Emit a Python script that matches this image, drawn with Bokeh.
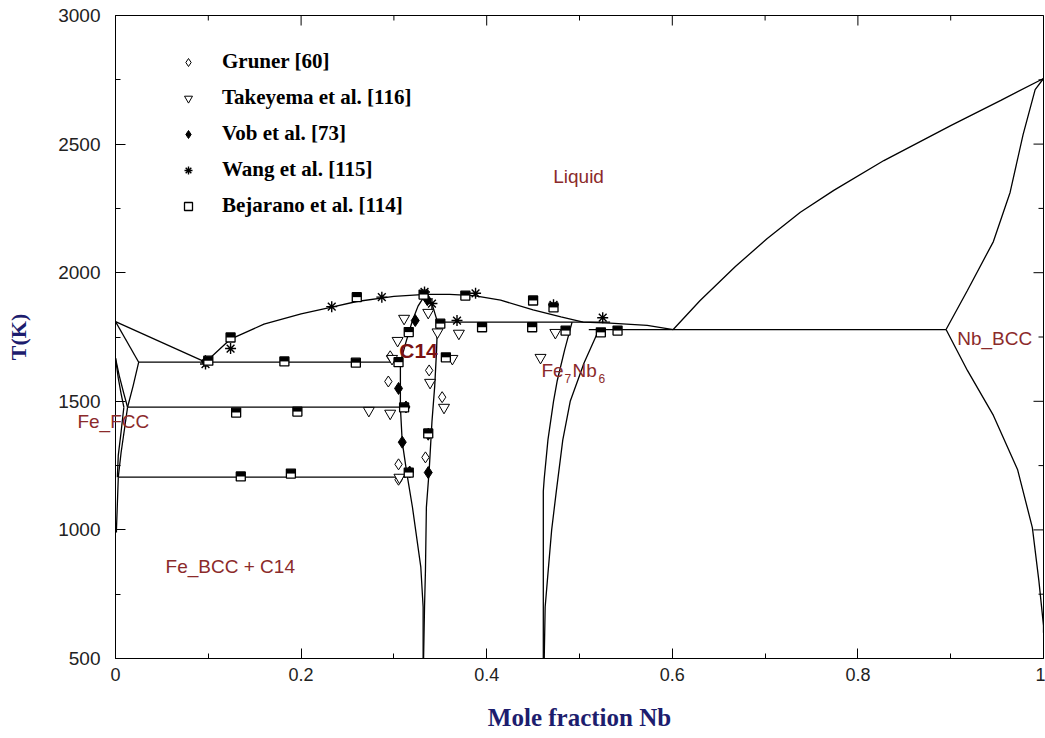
import math
from bokeh.plotting import figure
from bokeh.models import (FixedTicker, Label, Legend, LegendItem, Range1d)
from bokeh.core.properties import value
from bokeh.embed import file_html
from bokeh.resources import INLINE

# ---------------- data (x = mole fraction Nb, T in K) ----------------
# phase boundaries
liq_fe_x = [0.0, 0.097]
liq_fe_t = [1810, 1652]
liq_c14_x = [0.097, 0.124, 0.16, 0.2, 0.233, 0.26, 0.3, 0.334, 0.36, 0.386, 0.415, 0.45, 0.48, 0.504, 0.533, 0.573, 0.601]
liq_c14_t = [1652, 1742, 1800, 1840, 1866, 1888, 1908, 1916, 1916, 1911, 1893, 1855, 1828, 1808, 1804, 1795, 1779]
liq_nb_x = [0.601, 0.630, 0.668, 0.702, 0.738, 0.774, 0.828, 0.9, 0.954, 1.0]
liq_nb_t = [1779, 1892, 2024, 2132, 2235, 2320, 2436, 2572, 2670, 2755]
sol_nb_x = [0.895, 0.918, 0.946, 0.964, 0.978, 0.991, 1.0]
sol_nb_t = [1779, 1931, 2121, 2312, 2537, 2712, 2755]
solv_nb_x = [0.895, 0.918, 0.946, 0.972, 0.988, 0.995, 1.0, 1.0]
solv_nb_t = [1779, 1620, 1445, 1235, 1009, 803, 628, 600]
c14_left_x = [0.334, 0.326, 0.320, 0.313, 0.307, 0.307, 0.309, 0.314, 0.320, 0.329, 0.3315, 0.3315]
c14_left_t = [1916, 1870, 1814, 1730, 1652, 1477, 1341, 1219, 1088, 855, 700, 500]
c14_right_x = [0.334, 0.341, 0.347, 0.346, 0.344, 0.341, 0.338, 0.335, 0.334, 0.333, 0.332]
c14_right_t = [1916, 1880, 1808, 1700, 1560, 1420, 1231, 1088, 842, 700, 500]
mu_left_x = [0.492, 0.484, 0.476, 0.472, 0.466, 0.462, 0.461, 0.461]
mu_left_t = [1808, 1700, 1580, 1500, 1350, 1200, 1150, 500]
mu_right_x = [0.521, 0.505, 0.490, 0.482, 0.475, 0.470, 0.466, 0.463, 0.462]
mu_right_t = [1779, 1650, 1500, 1350, 1150, 1000, 830, 700, 500]
delta_sol_x = [0.0, 0.025]
delta_sol_t = [1810, 1652]
delta_gam_x = [0.025, 0.019, 0.013]
delta_gam_t = [1652, 1560, 1477]
gam_a_x = [0.0, 0.004, 0.009, 0.013]
gam_a_t = [1668, 1600, 1530, 1477]
gam_b_x = [0.0, 0.003, 0.006, 0.009]
gam_b_t = [1668, 1590, 1530, 1477]
gam_c_x = [0.013, 0.010, 0.006, 0.003]
gam_c_t = [1477, 1400, 1300, 1205]
gam_d_x = [0.009, 0.006, 0.003, 0.002]
gam_d_t = [1477, 1380, 1290, 1205]
bcc_solv_x = [0.003, 0.002, 0.001, 0.001]
bcc_solv_t = [1205, 1100, 1000, 990]
# invariant (horizontal) lines
inv_1652_x = [0.025, 0.307]
inv_1652_t = [1652, 1652]
inv_1477_x = [0.013, 0.307]
inv_1477_t = [1477, 1477]
inv_1205_x = [0.003, 0.313]
inv_1205_t = [1205, 1205]
inv_1808_x = [0.347, 0.533]
inv_1808_t = [1808, 1808]
inv_1779_x = [0.51, 0.895]
inv_1779_t = [1779, 1779]

# experimental points
gruner_x = [0.296, 0.294, 0.338, 0.352, 0.305, 0.334, 0.305]
gruner_t = [1675, 1577, 1620, 1516, 1255, 1282, 1195]
takeyema_x = [0.311, 0.304, 0.337, 0.347, 0.363, 0.298, 0.339, 0.354, 0.273, 0.296, 0.306, 0.370, 0.474, 0.458]
takeyema_t = [1822, 1736, 1845, 1769, 1666, 1666, 1573, 1476, 1464, 1453, 1204, 1764, 1767, 1670]
vob_x = [0.097, 0.323, 0.305, 0.309, 0.337, 0.336, 0.313, 0.337, 0.317]
vob_t = [1655, 1814, 1550, 1341, 1223, 1895, 1478, 1372, 1225]
wang_x = [0.097, 0.124, 0.233, 0.287, 0.333, 0.341, 0.368, 0.388, 0.472, 0.525]
wang_t = [1645, 1705, 1868, 1905, 1925, 1880, 1814, 1920, 1875, 1825]
bejarano_x = [0.100, 0.124, 0.182, 0.259, 0.305, 0.130, 0.196, 0.135, 0.189, 0.260, 0.332, 0.377,
              0.450, 0.472, 0.350, 0.395, 0.449, 0.485, 0.316, 0.356, 0.311, 0.337, 0.316, 0.523, 0.541]
bejarano_t = [1658, 1748, 1655, 1650, 1652, 1456, 1460, 1208, 1219, 1905, 1915, 1911,
              1892, 1865, 1802, 1788, 1788, 1775, 1769, 1671, 1476, 1375, 1223, 1768, 1775]

series_labels = ["Gruner [60]", "Takeyema et al. [116]", "Vob et al. [73]",
                 "Wang et al. [115]", "Bejarano et al. [114]"]

x_tick_vals = [0, 0.2, 0.4, 0.6, 0.8, 1.0]
x_tick_labels = ["0", "0.2", "0.4", "0.6", "0.8", "1"]
x_minor = [0.1, 0.3, 0.5, 0.7, 0.9]
y_tick_vals = [500, 1000, 1500, 2000, 2500, 3000]
y_minor = [750, 1250, 1750, 2250, 2750]

# ---------------- figure ----------------
W, H = 1045, 738
ML, MR, MT, MB = 115, 2, 15, 80
X_MIN, X_MAX = 0, 1
T_MIN, T_MAX = 500, 3000

p = figure(width=W, height=H, x_range=Range1d(X_MIN, X_MAX), y_range=Range1d(T_MIN, T_MAX),
           output_backend="svg", toolbar_location=None,
           min_border_left=ML, min_border_right=MR, min_border_top=MT, min_border_bottom=MB)
p.grid.visible = False
p.outline_line_color = "black"
p.outline_line_width = 1
p.background_fill_color = "white"
p.border_fill_color = "white"

navy = "#1d1d6e"
tick_col = "#222222"
lab_red = "#8b2a2a"

xt = FixedTicker(ticks=x_tick_vals, minor_ticks=x_minor)
yt = FixedTicker(ticks=y_tick_vals, minor_ticks=y_minor)

for ax in p.xaxis:
    ax.ticker = xt
    ax.major_label_overrides = dict(zip(x_tick_vals, x_tick_labels))
    ax.axis_label = "Mole fraction Nb"
    ax.major_label_standoff = 9
    ax.axis_label_standoff = 20
    ax.major_label_text_font = "Liberation Sans"
    ax.major_label_text_font_size = "18px"
    ax.major_label_text_color = tick_col
for ax in p.yaxis:
    ax.ticker = yt
    ax.axis_label = "T(K)"
    ax.major_label_standoff = 15
    ax.axis_label_standoff = 24
    ax.major_label_text_font = "Liberation Sans"
    ax.major_label_text_font_size = "19px"
    ax.major_label_text_color = tick_col
for ax in list(p.xaxis) + list(p.yaxis):
    ax.axis_label_text_font = "Liberation Serif"
    ax.axis_label_text_font_style = "bold"
    ax.axis_label_text_color = navy
    ax.axis_line_color = "black"
    ax.major_tick_in = 10
    ax.major_tick_out = 0
    ax.minor_tick_in = 5
    ax.minor_tick_out = 0
    ax.major_tick_line_color = "black"
    ax.minor_tick_line_color = "black"
p.xaxis.axis_label_text_font_size = "25px"
p.yaxis.axis_label_text_font_size = "22px"

# inward ticks on the top and right frame edges (dash markers clipped by the frame)
p.scatter(x_tick_vals, [T_MAX] * len(x_tick_vals), marker="dash", angle=math.pi / 2,
          size=20, line_color="black", line_width=1)
p.scatter(x_minor, [T_MAX] * len(x_minor), marker="dash", angle=math.pi / 2,
          size=10, line_color="black", line_width=1)
p.scatter([X_MAX] * len(y_tick_vals), y_tick_vals, marker="dash",
          size=20, line_color="black", line_width=1)
p.scatter([X_MAX] * len(y_minor), y_minor, marker="dash",
          size=10, line_color="black", line_width=1)

# ---------------- phase boundaries ----------------
curves = [
    (liq_fe_x, liq_fe_t), (liq_c14_x, liq_c14_t), (liq_nb_x, liq_nb_t),
    (sol_nb_x, sol_nb_t), (solv_nb_x, solv_nb_t),
    (c14_left_x, c14_left_t), (c14_right_x, c14_right_t),
    (mu_left_x, mu_left_t), (mu_right_x, mu_right_t),
    (delta_sol_x, delta_sol_t), (delta_gam_x, delta_gam_t),
    (gam_a_x, gam_a_t), (gam_b_x, gam_b_t), (gam_c_x, gam_c_t), (gam_d_x, gam_d_t),
    (bcc_solv_x, bcc_solv_t),
    (inv_1652_x, inv_1652_t), (inv_1477_x, inv_1477_t), (inv_1205_x, inv_1205_t),
    (inv_1808_x, inv_1808_t), (inv_1779_x, inv_1779_t),
]
for cx, ct in curves:
    p.line(cx, ct, line_color="black", line_width=1.3)

# ---------------- experimental points ----------------
r_g = p.scatter(gruner_x, gruner_t, marker="diamond", size=11, fill_color="white",
                line_color="black", line_width=1)
r_t = p.scatter(takeyema_x, takeyema_t, marker="inverted_triangle", size=11, fill_color="white",
                line_color="black", line_width=1)
r_v = p.scatter(vob_x, vob_t, marker="diamond", size=12, fill_color="black",
                line_color="black", line_width=1)
r_w = p.scatter(wang_x, wang_t, marker="asterisk", size=11, line_color="black", line_width=1.4)
r_b = p.scatter(bejarano_x, bejarano_t, marker="square", size=9, fill_color="white",
                line_color="black", line_width=1.3)
frame_h = H - MT - MB
dT = 2.2 * (T_MAX - T_MIN) / frame_h
p.rect(bejarano_x, [bt + dT for bt in bejarano_t], width=9, height=4.4,
       width_units="screen", height_units="screen", fill_color="black", line_color=None)
r_b_leg = p.scatter([], [], marker="dash", size=8, line_color="black", line_width=3)

legend = Legend(items=[
    LegendItem(label=series_labels[0], renderers=[r_g]),
    LegendItem(label=series_labels[1], renderers=[r_t]),
    LegendItem(label=series_labels[2], renderers=[r_v]),
    LegendItem(label=series_labels[3], renderers=[r_w]),
    LegendItem(label=series_labels[4], renderers=[r_b, r_b_leg]),
], location=(63, 440), orientation="vertical", padding=0, margin=0, spacing=11,
    glyph_width=20, glyph_height=24, label_height=24, label_standoff=24,
    label_text_font="Liberation Serif", label_text_font_style="bold",
    label_text_font_size="21px", label_text_color="black",
    border_line_alpha=0, background_fill_alpha=0)
p.add_layout(legend)

# ---------------- region labels ----------------
def lab(x, y, text, size="19px", style="normal", align="left", color=lab_red, xo=0, yo=0):
    p.add_layout(Label(x=x, y=y, text=text, text_font="Liberation Sans", text_font_size=size,
                       text_font_style=style, text_color=color, text_align=align,
                       text_baseline="middle", x_offset=xo, y_offset=yo, level="overlay"))

lab(0.499, 2374, "Liquid", align="center")
lab(0.3265, 1697, "C14", size="21px", style="bold", align="center", color="#7a1212")
lab(0.054, 858, "Fe_BCC + C14")
lab(0.907, 1744, "Nb_BCC")
lab(0.459, 1620, "Fe")
lab(0.459, 1620, "7", size="12px", xo=23, yo=-8)
lab(0.459, 1620, "Nb", xo=31)
lab(0.459, 1620, "6", size="12px", xo=57, yo=-8)

# Fe_FCC label reaches past the left frame edge: draw it as an unclipped overlay text glyph
fcc_x = [-0.041]
fcc_t = [1421]
fcc_text = ["Fe_FCC"]
p.text(fcc_x, fcc_t, text=fcc_text, text_font=value("Liberation Sans"), text_font_size="19px",
       text_color=lab_red, text_align="left", text_baseline="middle", level="overlay")

open("out.html", "w").write(file_html(p, INLINE))
